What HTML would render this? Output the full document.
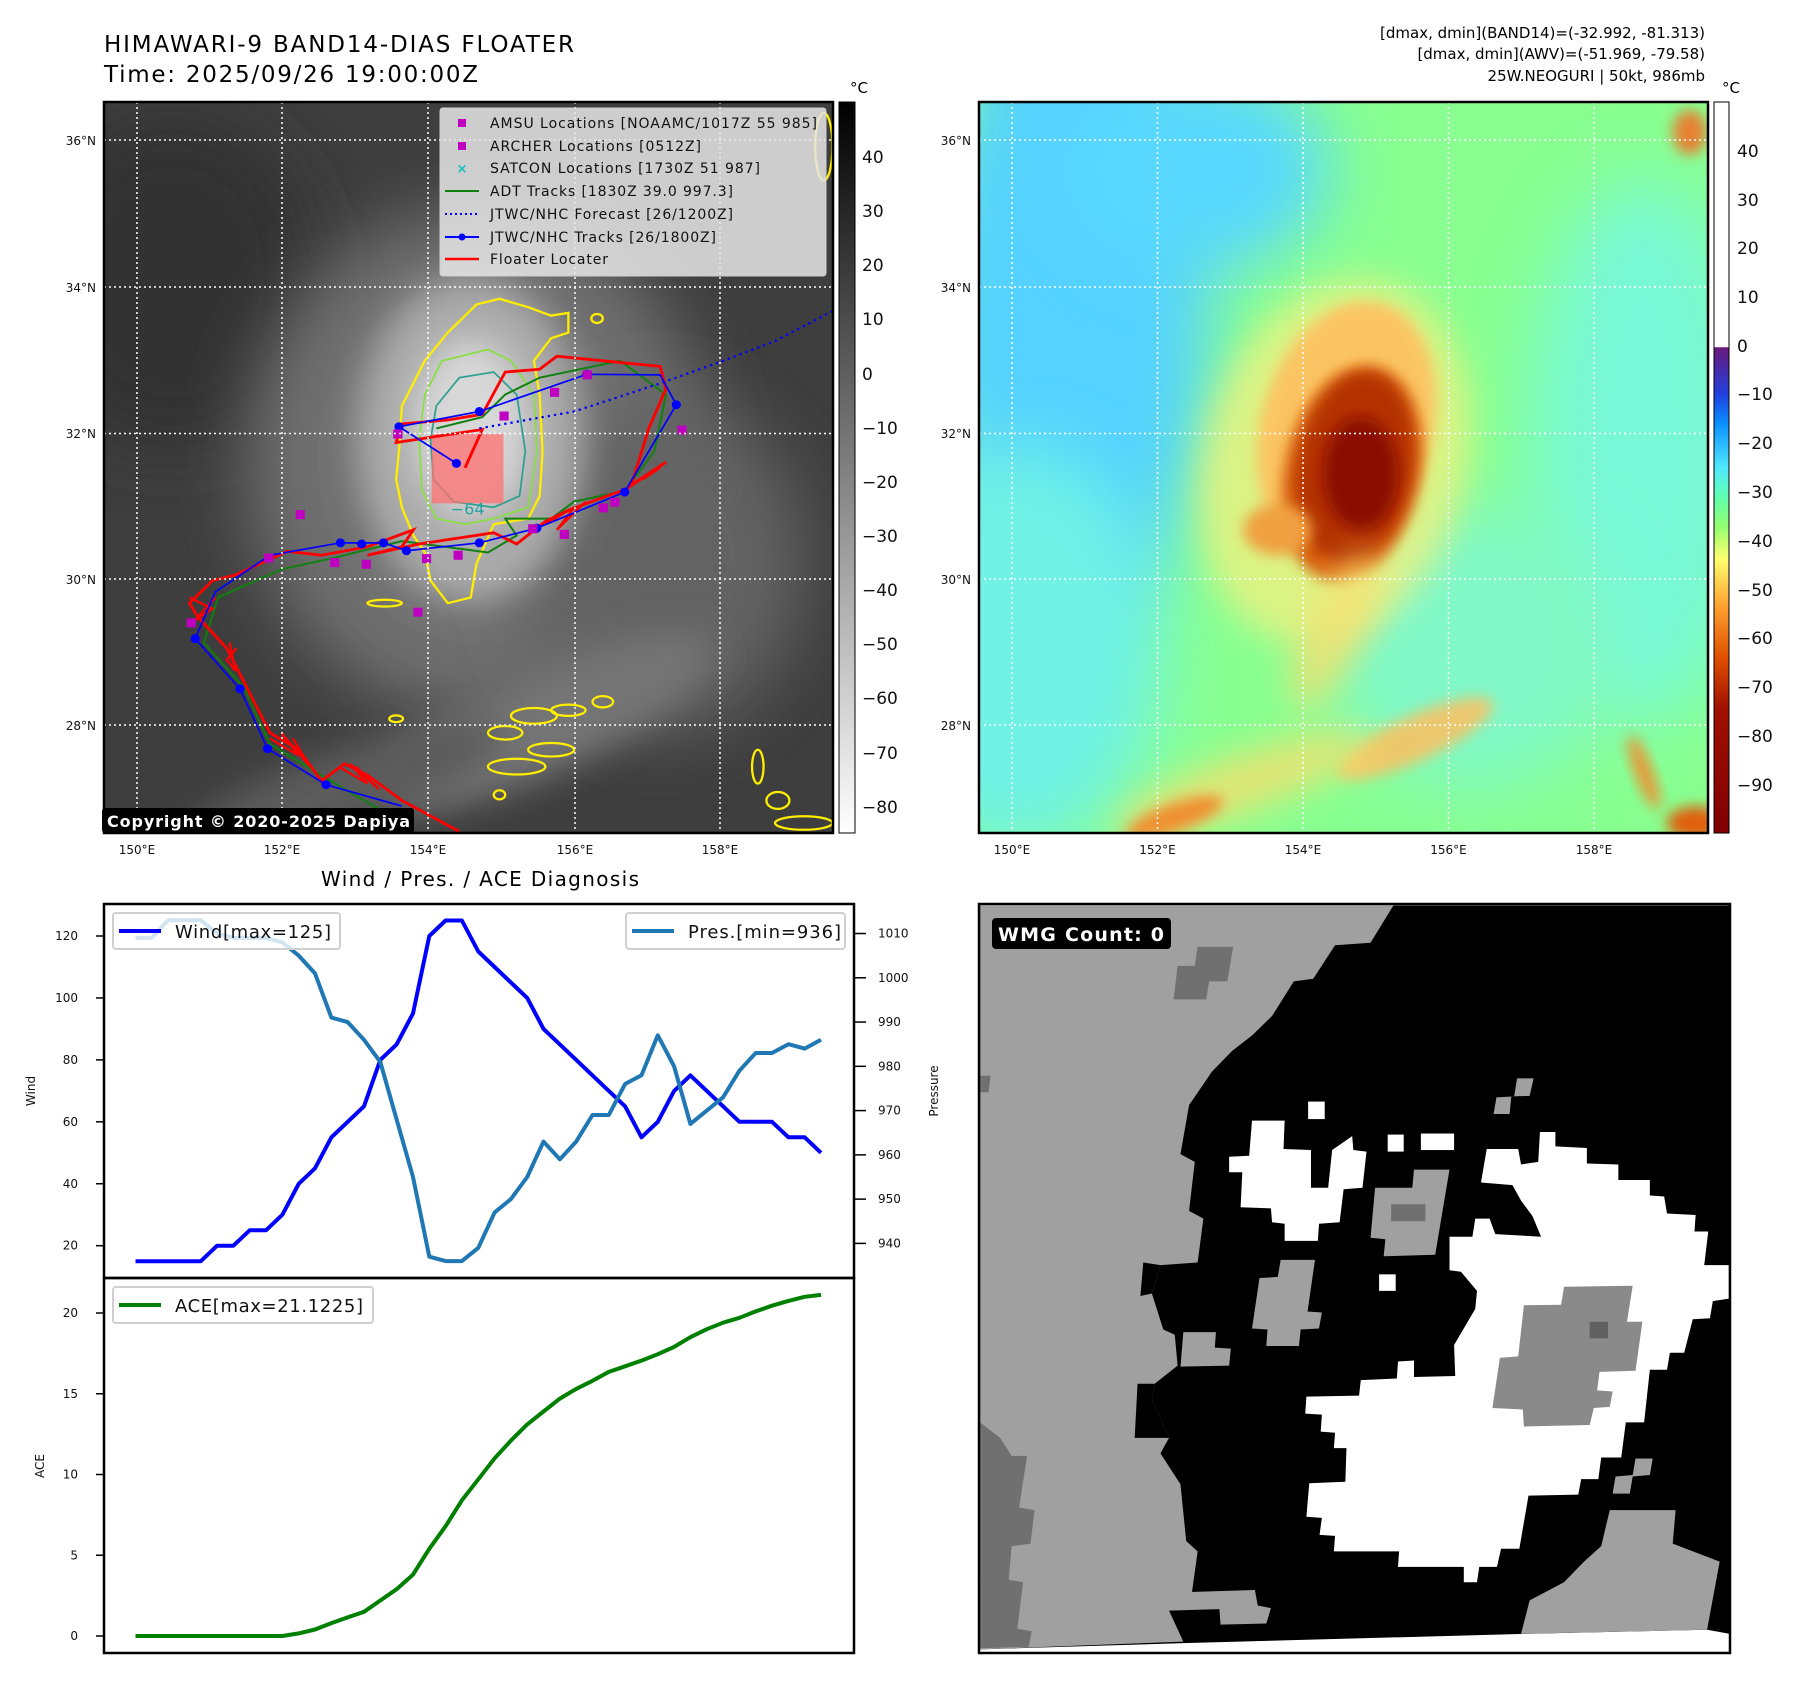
<!DOCTYPE html>
<html><head><meta charset="utf-8"><style>
html,body{margin:0;padding:0;background:#fff}
svg{display:block}
text{font-family:"DejaVu Sans","Liberation Sans",sans-serif}
</style></head><body>
<svg id="root" width="1797" height="1690" viewBox="0 0 1797 1690" xmlns="http://www.w3.org/2000/svg">
<defs>
<filter id="b60" x="-50%" y="-50%" width="200%" height="200%"><feGaussianBlur stdDeviation="60"/></filter>
<filter id="b30" x="-50%" y="-50%" width="200%" height="200%"><feGaussianBlur stdDeviation="30"/></filter>
<filter id="b12" x="-50%" y="-50%" width="200%" height="200%"><feGaussianBlur stdDeviation="12"/></filter>
<clipPath id="clipL"><rect x="104" y="102" width="729" height="731"/></clipPath>
<clipPath id="clipR"><rect x="979" y="102" width="729" height="731"/></clipPath>
<linearGradient id="cbL" x1="0" y1="0" x2="0" y2="1"><stop offset="0" stop-color="#000"/><stop offset="1" stop-color="#fff"/></linearGradient>
<linearGradient id="cbR" x1="0" y1="0" x2="0" y2="1">
<stop offset="0" stop-color="#fff"/><stop offset="0.335" stop-color="#fff"/><stop offset="0.336" stop-color="#6a1a7a"/>
<stop offset="0.4" stop-color="#2040e0"/><stop offset="0.44" stop-color="#0a90ff"/><stop offset="0.5" stop-color="#50e8ff"/>
<stop offset="0.54" stop-color="#60ffb0"/><stop offset="0.58" stop-color="#90ff70"/><stop offset="0.625" stop-color="#ffff70"/>
<stop offset="0.69" stop-color="#ffa030"/><stop offset="0.76" stop-color="#e05000"/><stop offset="0.83" stop-color="#a01000"/><stop offset="1" stop-color="#800000"/></linearGradient>
</defs>

<text x="104" y="52" font-size="23" textLength="470">HIMAWARI-9 BAND14-DIAS FLOATER</text>
<text x="104" y="82" font-size="23" textLength="374">Time: 2025/09/26 19:00:00Z</text>
<g font-size="15" text-anchor="end">
<text x="1705" y="38">[dmax, dmin](BAND14)=(-32.992, -81.313)</text>
<text x="1705" y="59">[dmax, dmin](AWV)=(-51.969, -79.58)</text>
<text x="1705" y="81">25W.NEOGURI | 50kt, 986mb</text>
</g>

<!-- LEFT IR MAP -->
<g clip-path="url(#clipL)">
<rect x="104" y="102" width="729" height="731" fill="#3e3e3e"/>
<g transform="scale(0.5741,0.5637)">
<ellipse cx="300" cy="500" rx="250" ry="300" fill="#323232" filter="url(#b60)"/>
<ellipse cx="830" cy="820" rx="400" ry="450" fill="#707070" filter="url(#b60)"/>
<ellipse cx="1150" cy="1000" rx="250" ry="300" fill="#646464" filter="url(#b60)"/>
<ellipse cx="820" cy="780" rx="200" ry="290" fill="#aaaaaa" filter="url(#b30)"/>
<ellipse cx="820" cy="760" rx="100" ry="160" fill="#d8d8d8" filter="url(#b30)"/>
<ellipse cx="950" cy="1280" rx="320" ry="90" transform="rotate(-25 950 1280)" fill="#747474" filter="url(#b30)"/>
<ellipse cx="600" cy="1400" rx="300" ry="70" transform="rotate(-20 600 1400)" fill="#5c5c5c" filter="url(#b30)"/>
</g>
</g>
<g clip-path="url(#clipL)">
<g transform="scale(0.5741,0.5637)" fill="none">
<path d="M700,720 L740,640 780,590 830,540 870,530 920,545 960,560 990,555 990,590 960,600 930,640 940,700 945,800 940,880 920,920 860,930 830,1000 820,1060 780,1070 750,1030 740,980 720,950 700,900 690,850 695,800Z" stroke="#ffee00" stroke-width="4"/>
<path d="M740,700 L770,640 850,620 890,640 930,700 935,800 920,900 860,920 810,930 760,920 735,870 730,780Z" stroke="#88e040" stroke-width="3"/>
<path d="M760,720 L800,670 860,660 900,700 915,800 905,880 860,900 790,890 755,850 750,780Z" stroke="#2aa090" stroke-width="3"/>
<g stroke="#ffee00" stroke-width="4">
<ellipse cx="880" cy="1300" rx="30" ry="12"/><ellipse cx="930" cy="1270" rx="40" ry="14"/><ellipse cx="990" cy="1260" rx="30" ry="10"/>
<ellipse cx="900" cy="1360" rx="50" ry="14"/><ellipse cx="960" cy="1330" rx="40" ry="12"/><ellipse cx="1050" cy="1245" rx="18" ry="10"/>
<ellipse cx="870" cy="1410" rx="10" ry="8"/><ellipse cx="1355" cy="1420" rx="20" ry="15"/><ellipse cx="1320" cy="1360" rx="10" ry="30"/>
<ellipse cx="1400" cy="1460" rx="50" ry="12"/><ellipse cx="1435" cy="260" rx="15" ry="60"/><ellipse cx="690" cy="1275" rx="12" ry="6"/>
<ellipse cx="1040" cy="565" rx="10" ry="8"/><ellipse cx="670" cy="1070" rx="30" ry="6"/>
</g>
<rect x="752" y="770" width="125" height="123" fill="#ff7070" fill-opacity="0.75" stroke="none"/>
<text x="785" y="913" font-size="28" fill="#2aa0a0" stroke="none">−64</text>
<polyline points="720,1470 600,1400 470,1320 425,1220 355,1140 380,1060 490,1010 580,990 700,960 850,980 900,950 880,920 960,920 1000,890 1090,870 1140,800 1160,700 1080,640 940,670 880,700 840,740 760,760" stroke="#108010" stroke-width="3.5"/>
<polyline points="800,1475 700,1420 640,1375 600,1355 560,1385 520,1330 470,1300 440,1240 420,1200 395,1150 345,1095 330,1070 370,1030 410,1020 500,978 560,985 640,970 720,940 700,970 640,985 730,965 860,945 900,965 950,925 990,905 1030,890 1090,868 1160,820 1100,860 1130,760 1160,690 1150,650 970,632 940,655 880,660 840,735 780,745 700,752 690,785 840,762 810,830" stroke="#ff0000" stroke-width="5"/>
<g stroke="#ff0000" stroke-width="4">
<polyline points="330,1060 370,1080 340,1100 375,1060"/><polyline points="400,1140 410,1190 395,1170 412,1150"/>
<polyline points="470,1310 520,1340 490,1300 540,1360 510,1310"/><polyline points="590,1360 640,1390 610,1355 660,1400 620,1360"/>
<polyline points="950,930 1000,900 970,940 1020,890"/><polyline points="1100,860 1160,820 1120,850 1150,830"/>
</g>
<polyline points="835,760 1000,730 1150,680 1260,640 1350,605 1450,552" stroke="#0000ff" stroke-width="4" stroke-dasharray="4 7"/>
<polyline points="700,1430 568,1392 466,1328 418,1222 340,1133 375,1050 470,985 593,963 668,963 708,977 835,963 935,937 1088,873 1178,718 1150,665 1022,664 835,730 695,757 795,822" stroke="#0000ff" stroke-width="3"/>
<g fill="#0000ff" stroke="none">
<circle cx="568" cy="1392" r="8"/><circle cx="466" cy="1328" r="8"/><circle cx="418" cy="1222" r="8"/><circle cx="340" cy="1133" r="8"/>
<circle cx="593" cy="963" r="8"/><circle cx="668" cy="963" r="8"/><circle cx="708" cy="977" r="8"/><circle cx="835" cy="963" r="8"/>
<circle cx="935" cy="937" r="8"/><circle cx="1088" cy="873" r="8"/><circle cx="1178" cy="718" r="8"/><circle cx="1022" cy="664" r="8"/>
<circle cx="835" cy="730" r="8"/><circle cx="695" cy="757" r="8"/><circle cx="795" cy="822" r="8"/><circle cx="630" cy="965" r="8"/>
</g>
<g fill="#c000c0" stroke="none">
<rect x="515" y="905" width="16" height="16"/><rect x="460" y="982" width="16" height="16"/><rect x="575" y="990" width="16" height="16"/>
<rect x="630" y="993" width="16" height="16"/><rect x="735" y="983" width="16" height="16"/><rect x="720" y="1078" width="16" height="16"/>
<rect x="325" y="1097" width="16" height="16"/><rect x="790" y="977" width="16" height="16"/><rect x="870" y="730" width="16" height="16"/>
<rect x="958" y="688" width="16" height="16"/><rect x="1015" y="657" width="16" height="16"/><rect x="1043" y="893" width="16" height="16"/>
<rect x="1063" y="883" width="16" height="16"/><rect x="975" y="940" width="16" height="16"/><rect x="1180" y="755" width="16" height="16"/>
<rect x="685" y="762" width="16" height="16"/><rect x="920" y="930" width="16" height="16"/>
</g>
</g>
<g stroke="#fff" stroke-width="1.5" stroke-dasharray="2 3">
<line x1="137" y1="102" x2="137" y2="833"/><line x1="282" y1="102" x2="282" y2="833"/><line x1="428" y1="102" x2="428" y2="833"/><line x1="575" y1="102" x2="575" y2="833"/><line x1="720" y1="102" x2="720" y2="833"/>
<line x1="104" y1="140" x2="833" y2="140"/><line x1="104" y1="287" x2="833" y2="287"/><line x1="104" y1="433.5" x2="833" y2="433.5"/><line x1="104" y1="579" x2="833" y2="579"/><line x1="104" y1="725" x2="833" y2="725"/>
</g>
</g>
<g>
<rect x="440" y="108" width="386" height="168" rx="3" fill="#e6e6e6" fill-opacity="0.85" stroke="#cfcfcf"/>
<rect x="458" y="119" width="8" height="8" fill="#c000c0"/>
<rect x="458" y="142" width="8" height="8" fill="#c000c0"/>
<text x="462" y="173" font-size="13" fill="#10c0c0" text-anchor="middle" font-weight="bold">×</text>
<line x1="445" y1="191" x2="479" y2="191" stroke="#108010" stroke-width="2"/>
<line x1="445" y1="214" x2="479" y2="214" stroke="#0000ff" stroke-width="2" stroke-dasharray="2 3"/>
<line x1="445" y1="237" x2="479" y2="237" stroke="#0000ff" stroke-width="2"/><circle cx="462" cy="237" r="3.5" fill="#0000ff"/>
<line x1="445" y1="259" x2="479" y2="259" stroke="#ff0000" stroke-width="2.5"/>
<g font-size="14" fill="#111">
<text x="490" y="128" textLength="327">AMSU Locations [NOAAMC/1017Z 55 985]</text>
<text x="490" y="151" textLength="211">ARCHER Locations [0512Z]</text>
<text x="490" y="173" textLength="270">SATCON Locations [1730Z 51 987]</text>
<text x="490" y="196" textLength="243">ADT Tracks [1830Z 39.0 997.3]</text>
<text x="490" y="219" textLength="243">JTWC/NHC Forecast [26/1200Z]</text>
<text x="490" y="242" textLength="226">JTWC/NHC Tracks [26/1800Z]</text>
<text x="490" y="264" textLength="118">Floater Locater</text>
</g></g>
<rect x="102" y="808" width="312" height="25" rx="3" fill="#000"/>
<text x="107" y="827" font-size="16" font-weight="bold" fill="#fff" textLength="303">Copyright © 2020-2025 Dapiya</text>
<rect x="104" y="102" width="729" height="731" fill="none" stroke="#000" stroke-width="2.5"/>
<g font-size="12" fill="#111" text-anchor="end">
<text x="96" y="145">36°N</text><text x="96" y="292">34°N</text><text x="96" y="438">32°N</text><text x="96" y="584">30°N</text><text x="96" y="730">28°N</text></g>
<g font-size="12" fill="#111" text-anchor="middle">
<text x="137" y="854">150°E</text><text x="282" y="854">152°E</text><text x="428" y="854">154°E</text><text x="575" y="854">156°E</text><text x="720" y="854">158°E</text></g>
<rect x="839" y="102" width="16" height="731" fill="url(#cbL)" stroke="#000" stroke-width="1"/>
<text x="850" y="93" font-size="15">°C</text>
<g font-size="17" fill="#111">
<text x="862" y="163">40</text><text x="862" y="217">30</text><text x="862" y="271">20</text><text x="862" y="325">10</text><text x="862" y="380">0</text>
<text x="862" y="434">−10</text><text x="862" y="488">−20</text><text x="862" y="542">−30</text><text x="862" y="596">−40</text><text x="862" y="650">−50</text>
<text x="862" y="704">−60</text><text x="862" y="759">−70</text><text x="862" y="813">−80</text></g>

<!-- RIGHT AWV MAP -->
<g clip-path="url(#clipR)">
<rect x="979" y="102" width="729" height="731" fill="#88ff90"/>
<g transform="translate(900,0) scale(0.5722,0.5637)">
<ellipse cx="300" cy="550" rx="240" ry="580" fill="#55d2ff" filter="url(#b60)"/>
<ellipse cx="520" cy="300" rx="230" ry="180" fill="#58d8ff" filter="url(#b60)"/>
<ellipse cx="200" cy="1150" rx="260" ry="360" fill="#70f2e6" filter="url(#b60)"/>
<ellipse cx="1300" cy="800" rx="200" ry="480" fill="#78f8d6" filter="url(#b60)"/>
<ellipse cx="1000" cy="1150" rx="250" ry="250" fill="#80f8c8" filter="url(#b60)"/>
<ellipse cx="760" cy="820" rx="230" ry="330" transform="rotate(15 760 820)" fill="#f8f080" opacity="0.75" filter="url(#b30)"/>
<ellipse cx="780" cy="760" rx="150" ry="230" transform="rotate(15 780 760)" fill="#ffc060" opacity="0.9" filter="url(#b12)"/>
<ellipse cx="790" cy="840" rx="118" ry="195" transform="rotate(12 790 840)" fill="#d86010" filter="url(#b12)"/>
<ellipse cx="795" cy="830" rx="100" ry="170" transform="rotate(10 795 830)" fill="#b43000" filter="url(#b12)"/>
<ellipse cx="805" cy="840" rx="65" ry="100" fill="#8a0c00" filter="url(#b12)"/>
<ellipse cx="660" cy="940" rx="60" ry="45" fill="#f0a040" filter="url(#b12)"/>
<ellipse cx="760" cy="1120" rx="50" ry="150" transform="rotate(25 760 1120)" fill="#f8e070" opacity="0.8" filter="url(#b30)"/>
<ellipse cx="900" cy="1310" rx="150" ry="40" transform="rotate(-25 900 1310)" fill="#ffc060" opacity="0.85" filter="url(#b12)"/>
<ellipse cx="600" cy="1390" rx="240" ry="50" transform="rotate(-20 600 1390)" fill="#f8e070" opacity="0.8" filter="url(#b30)"/>
<ellipse cx="480" cy="1450" rx="90" ry="25" transform="rotate(-20 480 1450)" fill="#f09030" filter="url(#b12)"/>
<ellipse cx="1390" cy="1460" rx="50" ry="30" fill="#e06010" filter="url(#b12)"/>
<ellipse cx="1300" cy="1370" rx="15" ry="70" transform="rotate(-20 1300 1370)" fill="#f09030" filter="url(#b12)"/>
<ellipse cx="1380" cy="235" rx="30" ry="40" fill="#e88030" filter="url(#b12)"/>
</g>
<g stroke="#fff" stroke-width="1.5" stroke-dasharray="2 3">
<line x1="1012" y1="102" x2="1012" y2="833"/><line x1="1157.5" y1="102" x2="1157.5" y2="833"/><line x1="1303" y1="102" x2="1303" y2="833"/><line x1="1448.5" y1="102" x2="1448.5" y2="833"/><line x1="1594" y1="102" x2="1594" y2="833"/>
<line x1="979" y1="140" x2="1708" y2="140"/><line x1="979" y1="287" x2="1708" y2="287"/><line x1="979" y1="433.5" x2="1708" y2="433.5"/><line x1="979" y1="579" x2="1708" y2="579"/><line x1="979" y1="725" x2="1708" y2="725"/>
</g></g>
<rect x="979" y="102" width="729" height="731" fill="none" stroke="#000" stroke-width="2.5"/>
<g font-size="12" fill="#111" text-anchor="end">
<text x="971" y="145">36°N</text><text x="971" y="292">34°N</text><text x="971" y="438">32°N</text><text x="971" y="584">30°N</text><text x="971" y="730">28°N</text></g>
<g font-size="12" fill="#111" text-anchor="middle">
<text x="1012" y="854">150°E</text><text x="1157.5" y="854">152°E</text><text x="1303" y="854">154°E</text><text x="1448.5" y="854">156°E</text><text x="1594" y="854">158°E</text></g>
<rect x="1714" y="102" width="15" height="731" fill="url(#cbR)" stroke="#000" stroke-width="1"/>
<text x="1722" y="93" font-size="15">°C</text>
<g font-size="17" fill="#111">
<text x="1737" y="157">40</text><text x="1737" y="206">30</text><text x="1737" y="254">20</text><text x="1737" y="303">10</text><text x="1737" y="352">0</text>
<text x="1737" y="400">−10</text><text x="1737" y="449">−20</text><text x="1737" y="498">−30</text><text x="1737" y="547">−40</text><text x="1737" y="596">−50</text>
<text x="1737" y="644">−60</text><text x="1737" y="693">−70</text><text x="1737" y="742">−80</text><text x="1737" y="791">−90</text></g>

<!-- WMG panel -->
<g>
<rect x="979" y="904" width="751" height="749" fill="#fff"/>
<g transform="translate(900,880.8) scale(0.5724,0.5158)">
<polygon points="140,48 1450,48 1450,1460 1410,1452 1090,1460 495,1478 140,1490" fill="#000"/>
<polygon fill="#a0a0a0" points="140,48 862,48 822,120 760,125 722,190 688,195 650,262 615,300 580,330 545,370 505,435 490,530 515,545 505,640 530,655 520,740 455,745 440,800 460,870 480,880 485,940 445,975 440,1005 470,1080 455,1110 490,1170 500,1280 520,1300 510,1380 470,1415 495,1475 140,1490"/>
<polygon fill="#000" points="425,740 455,745 440,800 420,805"/><polygon fill="#000" points="415,975 445,975 440,1005 470,1080 410,1080"/>
<polygon fill="#707070" points="140,1050 175,1080 195,1115 222,1115 208,1215 235,1220 228,1285 195,1290 190,1355 215,1360 205,1450 230,1455 225,1485 140,1488"/>
<polygon fill="#707070" points="520,128 582,128 572,195 540,195 535,230 478,230 485,165 515,165"/>
<polygon fill="#707070" points="140,378 158,378 155,410 140,410"/>
<polygon fill="#a0a0a0" points="1240,1220 1355,1220 1350,1285 1432,1320 1410,1452 1085,1460 1100,1395 1160,1360 1195,1320 1225,1290"/>
<polygon fill="#a0a0a0" points="470,1380 620,1375 625,1405 648,1410 640,1440 560,1442 558,1412 470,1415"/>
<polygon fill="#fff" points="960,690 1000,690 1005,655 1030,655 1040,685 1120,690 1105,650 1085,620 1070,590 1015,585 1025,520 1080,520 1085,550 1115,545 1118,487 1145,487 1145,515 1200,518 1200,548 1255,550 1255,580 1310,580 1310,610 1335,612 1340,645 1390,648 1388,680 1412,680 1405,745 1448,745 1448,810 1420,815 1415,848 1385,850 1370,915 1345,915 1340,948 1310,948 1300,1050 1268,1050 1260,1118 1225,1118 1220,1160 1190,1160 1185,1190 1098,1192 1082,1295 1050,1295 1043,1330 1012,1330 1008,1360 985,1360 985,1330 870,1330 872,1300 758,1300 760,1270 733,1268 737,1235 710,1233 715,1168 778,1165 780,1100 758,1100 760,1070 735,1068 737,1035 708,1033 710,1000 802,998 805,968 868,965 870,932 898,930 898,962 970,960 968,900 1005,830 1008,795 980,758 960,755"/>
<polygon fill="#8a8a8a" points="1160,787 1280,785 1270,855 1297,855 1285,950 1222,952 1218,988 1245,990 1240,1020 1212,1022 1205,1055 1090,1058 1088,1025 1035,1022 1048,925 1080,922 1090,823 1155,822"/>
<rect x="1205" y="855" width="32" height="32" fill="#606060"/>
<polygon fill="#fff" points="615,465 672,465 670,520 718,522 718,595 748,595 755,522 790,495 792,522 815,525 808,595 775,598 768,662 732,665 730,698 672,698 672,665 650,662 648,635 595,633 598,565 575,565 575,535 610,533"/>
<rect x="713" y="428" width="29" height="34" fill="#fff"/><rect x="852" y="492" width="28" height="33" fill="#fff"/>
<rect x="910" y="490" width="58" height="32" fill="#fff"/><rect x="837" y="763" width="29" height="32" fill="#fff"/>
<polygon fill="#a0a0a0" points="898,560 960,560 935,725 845,728 848,695 822,692 830,595 895,595"/>
<rect x="858" y="627" width="60" height="33" fill="#707070"/>
<polygon fill="#a0a0a0" points="665,735 725,735 712,835 737,837 732,868 700,870 697,902 640,902 642,870 615,868 628,770 660,768"/>
<polygon fill="#a0a0a0" points="495,875 552,875 550,905 578,907 575,940 490,942"/>
<polygon fill="#a0a0a0" points="1078,383 1107,383 1100,417 1068,418 1065,452 1037,452 1042,420 1073,418"/>
<polygon fill="#a0a0a0" points="1285,1120 1315,1120 1310,1152 1280,1155 1275,1188 1245,1188 1250,1155 1280,1152"/>
</g>
<rect x="992" y="918" width="179" height="31" rx="4" fill="#000"/>
<text x="998" y="941" font-size="19" font-weight="bold" fill="#fff" textLength="166">WMG Count: 0</text>
<rect x="979" y="904" width="751" height="749" fill="none" stroke="#000" stroke-width="2.5"/>
</g>

<text x="480" y="886" font-size="20" text-anchor="middle" textLength="318">Wind / Pres. / ACE Diagnosis</text>
<g id="charts"></g>
</svg>
<script>
const windVals=[15,15,15,15,15,20,20,25,25,30,40,45,55,60,65,80,85,95,120,125,125,115,110,105,100,90,85,80,75,70,65,55,60,70,75,70,65,60,60,60,55,55,50];
const presVals=[1009,1009,1013,1013,1013,1010,1009,1009,1009,1008,1005,1001,991,990,986,981,968,955,937,936,936,939,947,950,955,963,959,963,969,969,976,978,987,980,967,970,973,979,983,983,985,984,986];
const aceVals=[0,0,0,0,0,0,0,0,0,0,0.16,0.4,0.8,1.15,1.5,2.2,2.9,3.8,5.4,6.8,8.4,9.7,11.0,12.1,13.1,13.9,14.7,15.3,15.8,16.35,16.7,17.05,17.45,17.9,18.5,19.0,19.4,19.7,20.1,20.45,20.75,21.0,21.12];
const windTicks=[20,40,60,80,100,120];
const presTicks=[940,950,960,970,980,990,1000,1010];
const aceTicks=[0,5,10,15,20];

const NS='http://www.w3.org/2000/svg';
const g=document.getElementById('charts');
const X0=135.5,X1=821;
const xS=i=>X0+i*(X1-X0)/(windVals.length-1);
const yW=v=>1245.7-(v-20)*3.097;
const yP=v=>1243.4-(v-940)*4.427;
const yA=v=>1636-v*16.15;
function el(tag,attrs,parent){const e=document.createElementNS(NS,tag);for(const k in attrs)e.setAttribute(k,attrs[k]);(parent||g).appendChild(e);return e;}
function txt(x,y,s,size,anchor,parent){const t=el('text',{x:x,y:y,'font-size':size,'text-anchor':anchor||'start',fill:'#111'},parent);t.textContent=s;return t;}

const f1=el('rect',{x:104,y:904,width:750,height:374,fill:'none',stroke:'#000','stroke-width':2.5});


const f2=el('rect',{x:104,y:1278,width:750,height:375,fill:'none',stroke:'#000','stroke-width':2.5});



windTicks.forEach(v=>{const y=yW(v);el('line',{x1:96,y1:y,x2:104,y2:y,stroke:'#000','stroke-width':1.5});const t=txt(78,y+4,String(v),12,'end');

});
presTicks.forEach(v=>{const y=yP(v);el('line',{x1:854,y1:y,x2:866,y2:y,stroke:'#000','stroke-width':1.5});const t=txt(878,y+4,String(v),12,'start');

});
aceTicks.forEach(v=>{const y=yA(v);el('line',{x1:96,y1:y,x2:104,y2:y,stroke:'#000','stroke-width':1.5});const t=txt(78,y+4,String(v),12,'end');

});

const wl=txt(0,0,'Wind',12,'middle');wl.setAttribute('transform','translate(35,1091) rotate(-90)');


const pl=txt(0,0,'Pressure',12,'middle');pl.setAttribute('transform','translate(938,1091) rotate(-90)');


const al=txt(0,0,'ACE',12,'middle');al.setAttribute('transform','translate(44,1466) rotate(-90)');



function line(vals,ys,color,name){const p=el('polyline',{points:vals.map((v,i)=>xS(i).toFixed(1)+','+ys(v).toFixed(1)).join(' '),fill:'none',stroke:color,'stroke-width':4,'stroke-linejoin':'round'});

}
line(windVals,yW,'#0000ff','wind-line');
line(presVals,yP,'#1f77b4','pressure-line');
line(aceVals,yA,'#008000','ace-line');

function legend(x,y,w,color,label,tl,name){const grp=el('g',{});


el('rect',{x:x,y:y,width:w,height:36,rx:3,fill:'#fff','fill-opacity':0.8,stroke:'#d0d0d0','stroke-width':2},grp);
el('line',{x1:x+6,y1:y+18,x2:x+48,y2:y+18,stroke:color,'stroke-width':4},grp);
const t=txt(x+62,y+25,label,18,'start',grp);t.setAttribute('textLength',tl);}
legend(113,913,227,'#0000ff','Wind[max=125]',156,'wind-legend');
legend(626,913,219,'#1f77b4','Pres.[min=936]',153,'pressure-legend');
legend(113,1287,260,'#008000','ACE[max=21.1225]',188,'ace-legend');
</script>
</body></html>
